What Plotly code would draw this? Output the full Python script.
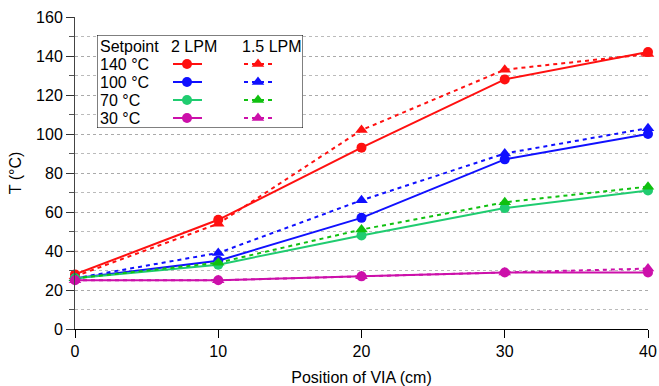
import plotly.graph_objects as go

positions = [0, 10, 20, 30, 40]
setpoints = ["140 °C", "100 °C", "70 °C", "30 °C"]
t_2lpm = [
    [28, 56, 93, 128, 142],
    [26, 35, 57, 87, 100],
    [26, 33, 48, 62, 71],
    [25, 25, 27, 29, 29],
]
t_15lpm = [
    [27, 54, 102, 133, 141],
    [26, 39, 66, 90, 103],
    [26, 34, 51, 65, 73],
    [25, 25, 27, 29, 31],
]
flow_labels = ["2 LPM", "1.5 LPM"]
colors_2 = ["#ff1010", "#1010ff", "#20cc70", "#cc10aa"]
colors_15 = ["#ff1010", "#1010ff", "#10c010", "#cc10aa"]

FONT = "Liberation Sans, Arial, Helvetica, sans-serif"
W, H = 659, 386
L, R, T, B = 75, 11, 17, 57
pw, ph = W - L - R, H - T - B

fig = go.Figure()
for i in range(len(setpoints)):
    fig.add_trace(go.Scatter(x=positions, y=t_2lpm[i], mode="lines+markers",
                             line=dict(color=colors_2[i], width=2),
                             marker=dict(symbol="circle", size=10, color=colors_2[i]),
                             cliponaxis=False, showlegend=False))
    fig.add_trace(go.Scatter(x=positions, y=t_15lpm[i], mode="lines+markers",
                             line=dict(color=colors_15[i], width=2, dash="4px,4px"),
                             marker=dict(symbol="triangle-up", size=11, color=colors_15[i]),
                             cliponaxis=False, showlegend=False))

# legend box (pixel layout inside a helper axis)
bx0, bx1, by0, by1 = 97, 303, 35, 128
lw, lh = bx1 - bx0, by1 - by0
row_y = [29, 47, 65, 83]
for i in range(len(setpoints)):
    yy = row_y[i]
    fig.add_trace(go.Scatter(x=[76, 90, 105], y=[yy] * 3, mode="lines",
                             line=dict(color=colors_2[i], width=2),
                             xaxis="x2", yaxis="y2", showlegend=False, hoverinfo="skip"))
    fig.add_trace(go.Scatter(x=[90], y=[yy], mode="markers",
                             marker=dict(symbol="circle", size=10, color=colors_2[i]),
                             xaxis="x2", yaxis="y2", showlegend=False, hoverinfo="skip"))
    fig.add_trace(go.Scatter(x=[147, 161, 176], y=[yy] * 3, mode="lines",
                             line=dict(color=colors_15[i], width=2, dash="4px,4px"),
                             xaxis="x2", yaxis="y2", showlegend=False, hoverinfo="skip"))
    fig.add_trace(go.Scatter(x=[161], y=[yy], mode="markers",
                             marker=dict(symbol="triangle-up", size=11, color=colors_15[i]),
                             xaxis="x2", yaxis="y2", showlegend=False, hoverinfo="skip"))
    fig.add_annotation(x=1, y=yy, xref="x2", yref="y2", text=setpoints[i],
                       showarrow=False, xanchor="left", yanchor="middle",
                       font=dict(family=FONT, size=16, color="black"))
fig.add_annotation(x=1, y=11, xref="x2", yref="y2", text="Setpoint", showarrow=False,
                   xanchor="left", yanchor="middle", font=dict(family=FONT, size=16, color="black"))
fig.add_annotation(x=97, y=11, xref="x2", yref="y2", text=flow_labels[0], showarrow=False,
                   xanchor="center", yanchor="middle", font=dict(family=FONT, size=16, color="black"))
fig.add_annotation(x=175, y=11, xref="x2", yref="y2", text=flow_labels[1], showarrow=False,
                   xanchor="center", yanchor="middle", font=dict(family=FONT, size=16, color="black"))
fig.add_shape(type="rect", xref="x2", yref="y2", x0=0, x1=lw, y0=0, y1=lh,
              line=dict(color="black", width=1), fillcolor="white", layer="below")

fig.update_layout(
    width=W, height=H, margin=dict(l=L, r=R, t=T, b=B),
    paper_bgcolor="white", plot_bgcolor="white",
    font=dict(family=FONT, size=16, color="black"),
    xaxis=dict(range=[0, 40], tickvals=positions, ticks="outside", ticklen=8, tickcolor="black",
               showline=True, linecolor="black", linewidth=1, showgrid=False, zeroline=False,
               automargin=False,
               tickfont=dict(size=16), title=dict(text="Position of VIA (cm)", font=dict(size=16), standoff=12)),
    yaxis=dict(range=[0, 160], dtick=20, ticks="outside", ticklen=8, tickcolor="#333",
               showline=True, linecolor="#444", linewidth=1, zeroline=False, automargin=False,
               showgrid=True, gridcolor="#aaaaaa", griddash="dot", gridwidth=1,
               minor=dict(dtick=10, ticks="outside", ticklen=5, tickcolor="#555",
                          showgrid=True, gridcolor="#bbbbbb", griddash="dot"),
               tickfont=dict(size=16), title=dict(text="T (°C)", font=dict(size=16), standoff=10)),
    xaxis2=dict(domain=[(bx0 - L) / pw, (bx1 - L) / pw], range=[0, lw], anchor="y2",
                visible=False, fixedrange=True),
    yaxis2=dict(domain=[(H - B - by1) / ph, (H - B - by0) / ph], range=[lh, 0], anchor="x2",
                visible=False, fixedrange=True),
)
fig.write_html("out.html")
